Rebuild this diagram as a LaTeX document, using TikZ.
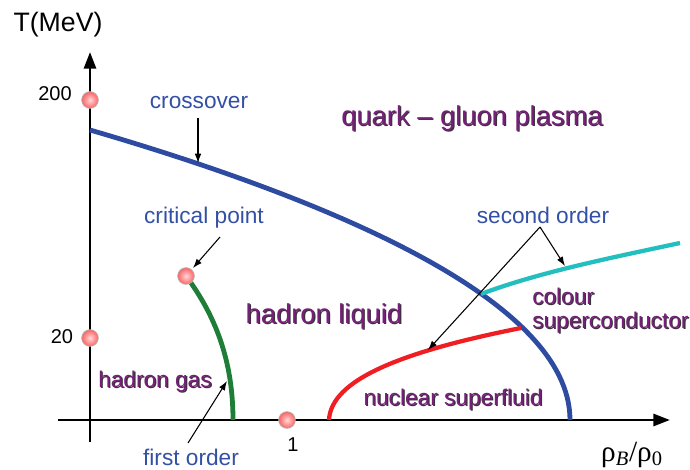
\documentclass[tikz,border=0pt]{standalone}
\usepackage{fontspec}
\setmainfont{Liberation Sans}
\newfontfamily\serifr{Liberation Serif}
\usetikzlibrary{arrows.meta}
\definecolor{lblue}{RGB}{50,80,165}
\definecolor{cblue}{RGB}{45,75,160}
\definecolor{cgreen}{RGB}{30,125,55}
\definecolor{cred}{RGB}{238,30,35}
\definecolor{ccyan}{RGB}{35,190,190}
\definecolor{lpurple}{RGB}{118,32,122}
\definecolor{shcol}{RGB}{60,50,60}
\newcommand\shtxt[1]{\rlap{\kern0.9pt\raisebox{-0.9pt}{\color{shcol}#1}}#1}
\begin{document}
\begin{tikzpicture}[x=0.75pt,y=-0.75pt,
  lab/.style={font=\fontsize{17}{20}\selectfont, inner sep=0pt},
  bluelab/.style={lab, text=lblue},
  purplab/.style={lab, text=lpurple},
  biglab/.style={font=\fontsize{20.5}{24}\selectfont, inner sep=0pt, text=lpurple},
  ticklab/.style={font=\fontsize{15}{18}\selectfont, inner sep=0pt},
  axisline/.style={line width=2.1pt, -{Triangle[length=12.5pt,width=9pt]}},
  phase/.style={line width=3.6pt},
  annot/.style={line width=0.8pt, -{Latex[length=7pt,width=5pt]}},
  dot/.style={circle, minimum size=12.5pt, inner sep=0pt, draw=gray!60, line width=0.6pt,
    inner color=red!15!white, outer color=red!62!white}
]
\useasboundingbox (0,0) rectangle (690,470);

% axes
\coordinate (xs) at (58,420);
\coordinate (xe) at (670,420);
\coordinate (ys) at (90,442);
\coordinate (ye) at (90,52);
\draw[axisline] (xs) -- (xe);
\draw[axisline] (ys) -- (ye);

% phase lines
\coordinate (b0) at (90,130);
\coordinate (b1) at (570,420);
\draw[phase, cblue] (b0) .. controls (330,200) and (570,300) .. (b1);

\coordinate (g0) at (186,276);
\coordinate (g1) at (233,420);
\draw[phase, cgreen] (g0) .. controls (215,315) and (233,360) .. (g1);

\coordinate (r0) at (329,420);
\coordinate (r1) at (521,328);
\draw[line width=3.2pt, cred] (r0) .. controls (331,380) and (400,352) .. (r1);

\coordinate (c0) at (481,294);
\coordinate (c1) at (680,243);
\draw[line width=3.2pt, ccyan] (c0) .. controls (540,272) and (610,258) .. (c1);

% dots
\node[dot] (p200) at (90,100) {};
\node[dot] (p20) at (90,338) {};
\node[dot] (pcrit) at (186,276) {};
\node[dot] (p1) at (287,420) {};

% axis labels
\node[font=\fontsize{20}{24}\selectfont, inner sep=0pt] (tlab) at (58,25) {T(MeV)};
\node[ticklab] (l200) at (55,94) {200};
\node[ticklab] (l20) at (62,337) {20};
\node[ticklab] (l1) at (293,445) {1};
\node[inner sep=0pt, font=\fontsize{22}{26}\selectfont\serifr] (xlab) at (632,455) {ρ\textsubscript{\textit{B}}/ρ\textsubscript{0}};

% labels
\node[bluelab] (cross) at (199,103) {crossover};
\node[bluelab] (crit) at (204,218) {critical point};
\node[bluelab] (first) at (191,457) {first order};
\node[bluelab] (second) at (543,215) {second order};

\node[biglab] (qgp) at (472,119) {\shtxt{quark -- gluon plasma}};
\node[biglab] (hliq) at (324,317) {\shtxt{hadron liquid}};
\node[purplab] (hgas) at (155,382) {\shtxt{hadron gas}};
\node[purplab] (nsf) at (453,400) {\shtxt{nuclear superfluid}};
\node[purplab, anchor=west] (col) at (532,297) {\shtxt{colour}};
\node[purplab, anchor=west] (sc) at (532,323) {\shtxt{superconductor}};

% annotation arrows
\coordinate (a1s) at (198,118);
\coordinate (a1e) at (198,163);
\draw[annot] (a1s) -- (a1e);
\coordinate (a2s) at (220,237);
\coordinate (a2e) at (193,268);
\draw[annot] (a2s) -- (a2e);
\coordinate (a3s) at (188,443);
\coordinate (a3e) at (227,381);
\draw[annot] (a3s) -- (a3e);
\coordinate (a4s) at (540,227);
\coordinate (a4e) at (565,266);
\coordinate (a5e) at (428,350);
\draw[annot] (a4s) -- (a4e);
\draw[annot] (a4s) -- (a5e);
\end{tikzpicture}
\end{document}
